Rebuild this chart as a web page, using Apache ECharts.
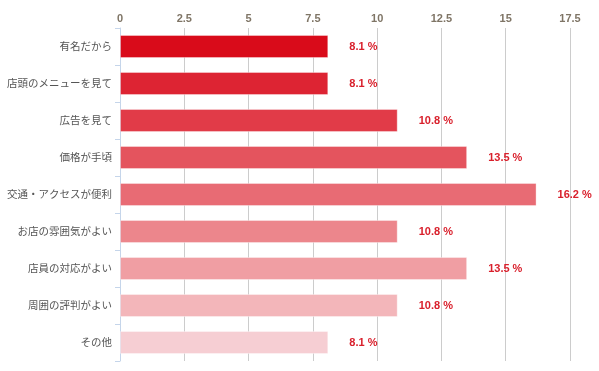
<!DOCTYPE html>
<html>
<head>
<meta charset="utf-8">
<script src="https://cdn.jsdelivr.net/npm/echarts@6/dist/echarts.min.js"></script>
<style>html,body{margin:0;padding:0;background:#fff;}#c{width:599px;height:371px;}</style>
</head>
<body>
<div id="c"></div>
<script>
const categories = ['有名だから','店頭のメニューを見て','広告を見て','価格が手頃','交通・アクセスが便利','お店の雰囲気がよい','店員の対応がよい','周囲の評判がよい','その他'];
const values = [8.1, 8.1, 10.8, 13.5, 16.2, 10.8, 13.5, 10.8, 8.1];
const barColors = ['#d90b1a','#dd2433','#e13b48','#e4545e','#e86b74','#ec868c','#f09ea3','#f3b6ba','#f6ced3'];
const tickLabels = [0, 2.5, 5, 7.5, 10, 12.5, 15, 17.5];

const chart = echarts.init(document.getElementById('c'));
chart.setOption({
  animation: false,
  grid: {left: 120, right: 29, top: 28, bottom: 10, containLabel: false, outerBoundsMode: 'none'},
  xAxis: {
    type: 'value', position: 'top', min: tickLabels[0], max: tickLabels[tickLabels.length-1], interval: 2.5,
    axisLine: {show: false}, axisTick: {show: false},
    axisLabel: {color: '#7f7566', fontWeight: 'bold', fontSize: 11, fontFamily: 'Liberation Sans, Arial', margin: 4,
      formatter: v => String(v)},
    splitLine: {show: true, lineStyle: {color: '#cccccc', width: 1}}
  },
  yAxis: {
    type: 'category', inverse: true, data: categories,
    axisLine: {show: true, lineStyle: {color: '#c5d5ea', width: 1}},
    axisTick: {show: true, length: 5, lineStyle: {color: '#c5d5ea'}},
    axisLabel: {color: '#555555', fontSize: 10.5, fontFamily: 'Noto Sans CJK JP', margin: 8}
  },
  series: [{
    type: 'bar', barWidth: 23,
    data: values.map((v, i) => ({value: v, itemStyle: {color: barColors[i], borderColor: 'rgba(255,255,255,0.35)', borderWidth: 1}})),
    label: {show: true, position: 'right', distance: 21, color: '#d9202c', fontWeight: 'bold', fontSize: 11,
      fontFamily: 'Liberation Sans, Arial', formatter: p => p.value.toFixed(1) + ' %'}
  }]
});
</script>
</body>
</html>
